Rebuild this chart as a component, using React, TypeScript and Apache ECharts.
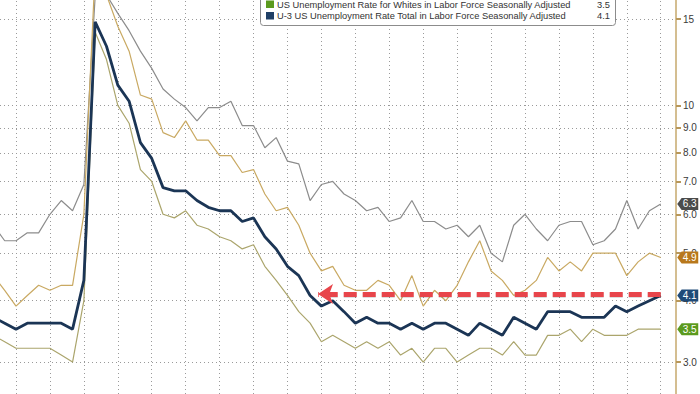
import React, { useEffect, useRef } from "react";
import * as echarts from "echarts";

// Monthly observations, Jul 2019 .. Jun 2024
const months: string[] = [
  "2019-07","2019-08","2019-09","2019-10","2019-11","2019-12",
  "2020-01","2020-02","2020-03","2020-04","2020-05","2020-06","2020-07","2020-08","2020-09","2020-10","2020-11","2020-12",
  "2021-01","2021-02","2021-03","2021-04","2021-05","2021-06","2021-07","2021-08","2021-09","2021-10","2021-11","2021-12",
  "2022-01","2022-02","2022-03","2022-04","2022-05","2022-06","2022-07","2022-08","2022-09","2022-10","2022-11","2022-12",
  "2023-01","2023-02","2023-03","2023-04","2023-05","2023-06","2023-07","2023-08","2023-09","2023-10","2023-11","2023-12",
  "2024-01","2024-02","2024-03","2024-04","2024-05","2024-06",
];

const black: number[] = [
  5.7, 5.3, 5.3, 5.5, 5.5, 6.0,
  6.4, 6.1, 6.9, 16.7, 16.8, 15.4, 14.2, 12.9, 11.9, 10.8, 10.3, 9.9,
  9.3, 9.9, 9.9, 10.2, 9.1, 9.1, 8.2, 8.6, 7.7, 7.6, 6.4, 6.9,
  7.0, 6.6, 6.4, 6.1, 6.2, 5.8, 5.9, 6.4, 5.8, 5.8, 5.6, 5.7,
  5.4, 5.7, 5.0, 4.8, 5.7, 6.0, 5.6, 5.3, 5.7, 5.8, 5.8, 5.2,
  5.3, 5.6, 6.4, 5.6, 6.1, 6.3,
];

const hispanic: number[] = [
  4.5, 4.2, 3.9, 4.1, 4.3, 4.2,
  4.3, 4.3, 6.0, 18.9, 16.8, 14.5, 12.9, 10.5, 10.3, 8.8, 8.6, 9.3,
  8.5, 8.5, 7.9, 7.9, 7.3, 7.4, 6.6, 6.1, 6.2, 5.7, 5.0, 4.6,
  4.7, 4.3, 4.2, 4.2, 4.4, 4.3, 4.0, 4.5, 3.9, 4.2, 4.0, 4.3,
  4.8, 5.3, 4.6, 4.4, 4.1, 4.2, 4.4, 4.9, 4.6, 4.8, 4.6, 5.0,
  5.0, 5.0, 4.5, 4.8, 5.0, 4.9,
];

const whites: number[] = [
  3.4, 3.3, 3.2, 3.2, 3.2, 3.2,
  3.1, 3.0, 4.0, 14.1, 12.4, 10.0, 9.2, 7.4, 7.0, 6.0, 5.9, 6.1,
  5.7, 5.6, 5.4, 5.3, 5.1, 5.2, 4.7, 4.4, 4.1, 3.8, 3.6, 3.3,
  3.4, 3.3, 3.2, 3.3, 3.2, 3.3, 3.1, 3.2, 3.0, 3.2, 3.2, 3.0,
  3.1, 3.2, 3.2, 3.1, 3.3, 3.1, 3.1, 3.4, 3.4, 3.5, 3.3, 3.5,
  3.4, 3.4, 3.4, 3.5, 3.5, 3.5,
];

const total: number[] = [
  3.7, 3.6, 3.5, 3.6, 3.6, 3.6,
  3.6, 3.5, 4.4, 14.8, 13.2, 11.0, 10.2, 8.4, 7.8, 6.8, 6.7, 6.7,
  6.4, 6.2, 6.1, 6.1, 5.8, 5.9, 5.4, 5.1, 4.7, 4.5, 4.1, 3.9,
  4.0, 3.8, 3.6, 3.7, 3.6, 3.6, 3.5, 3.6, 3.5, 3.6, 3.6, 3.5,
  3.4, 3.6, 3.5, 3.4, 3.7, 3.6, 3.5, 3.8, 3.8, 3.8, 3.7, 3.7,
  3.7, 3.9, 3.8, 3.9, 4.0, 4.1,
];

const yTicks: number[] = [3, 4, 5, 6, 7, 8, 9, 10, 15];
const quarterLines: string[] = [
  "2019-09","2019-12","2020-03","2020-06","2020-09","2020-12","2021-03","2021-06","2021-09","2021-12",
  "2022-03","2022-06","2022-09","2022-12","2023-03","2023-06","2023-09","2023-12","2024-03","2024-06",
];

const legendRows = [
  { name: "US Unemployment Rate for Whites in Labor Force Seasonally Adjusted", value: "3.5", color: "#5b9a1e" },
  { name: "U-3 US Unemployment Rate Total in Labor Force Seasonally Adjusted", value: "4.1", color: "#1f3f66" },
];

// annotation arrow: from the latest month back to the Nov 2021 level
const arrowLevel = 4.13;
const arrowShadowLevel = 4.1;
const arrowFromIdx = 59;
const arrowToIdx = 28.7;

const FONT = "Liberation Sans";

const pairs = (vals: number[]) => vals.map((v, i) => [i, v]);

const badge = (vals: number[], color: string) => {
  const last = vals[vals.length - 1];
  return {
    silent: true,
    symbol: "path://M0,6L5,0L24,0L24,12L5,12Z",
    symbolSize: [21, 12],
    symbolKeepAspect: false,
    symbolOffset: [27, 0],
    itemStyle: { color },
    label: {
      show: true,
      color: "#ffffff",
      fontSize: 10,
      fontFamily: FONT,
      offset: [2, 0],
      formatter: (p: any) => Number(p.value).toFixed(1),
    },
    data: [{ coord: [vals.length - 1, last], value: last }],
  };
};

export default function App() {
  const ref = useRef<HTMLDivElement>(null);

  useEffect(() => {
    if (!ref.current) return;
    const chart = echarts.init(ref.current, undefined, { renderer: "svg" });

    const gridLineData: any[] = [
      ...quarterLines.map((m) => ({ xAxis: months.indexOf(m) })),
      ...yTicks.map((v) => ({ yAxis: v })),
    ];

    const legendGraphics: any[] = [
      {
        type: "rect",
        shape: { x: 260.5, y: -40, width: 355, height: 65.5, r: 3 },
        style: { fill: "#ffffff", stroke: "#8c8c8c", lineWidth: 1 },
        z: 100,
      },
    ];
    legendRows.forEach((r, i) => {
      const cy = 4.5 + i * 11.5;
      legendGraphics.push({
        type: "rect",
        shape: { x: 266, y: cy - 4, width: 8, height: 7.5 },
        style: { fill: r.color },
        z: 101,
      });
      legendGraphics.push({
        type: "text",
        x: 277,
        y: cy,
        style: { text: r.name, fill: "#333333", fontSize: 9.3, fontFamily: FONT, verticalAlign: "middle", textAlign: "left" },
        z: 101,
      });
      legendGraphics.push({
        type: "text",
        x: 610,
        y: cy,
        style: { text: r.value, fill: "#333333", fontSize: 9.3, fontFamily: FONT, verticalAlign: "middle", textAlign: "right" },
        z: 101,
      });
    });

    const dash = [13, 6];

    const option: any = {
      animation: false,
      textStyle: { fontFamily: FONT },
      grid: { left: 0, right: 24, top: 0, bottom: 0, containLabel: false },
      xAxis: {
        type: "value",
        min: 0.585,
        max: 60.35,
        show: false,
        splitLine: { show: false },
      },
      yAxis: {
        type: "log",
        logBase: 10,
        position: "right",
        min: 2.582,
        max: 16.4,
        axisLine: { show: true, onZero: false, lineStyle: { color: "#c6a86c", width: 1.5 } },
        axisTick: { show: true, length: 5, customValues: yTicks, lineStyle: { color: "#b8975a", width: 2 } },
        axisLabel: {
          show: true,
          customValues: yTicks,
          margin: 7,
          color: "#3a3a3a",
          fontSize: 10,
          fontFamily: FONT,
          formatter: (v: number) => (v >= 10 ? String(Math.round(v)) : v.toFixed(1)),
        },
        splitLine: { show: false },
      },
      graphic: legendGraphics,
      series: [
        {
          name: "Black",
          type: "line",
          data: pairs(black),
          showSymbol: false,
          clip: false,
          z: 2,
          lineStyle: { color: "#8c8c8c", width: 1.2 },
          itemStyle: { color: "#8c8c8c" },
          markLine: {
            silent: true,
            symbol: "none",
            z: 1,
            label: { show: false },
            lineStyle: { type: [1, 3], color: "#9a9a9a", width: 1 },
            data: gridLineData,
          },
          markPoint: badge(black, "#4b4b4b"),
        },
        {
          name: "Hispanic",
          type: "line",
          data: pairs(hispanic),
          showSymbol: false,
          clip: false,
          z: 3,
          lineStyle: { color: "#c9a962", width: 1.2 },
          itemStyle: { color: "#c9a962" },
          markPoint: badge(hispanic, "#b8781c"),
        },
        {
          name: "Whites",
          type: "line",
          data: pairs(whites),
          showSymbol: false,
          clip: false,
          z: 3,
          lineStyle: { color: "#aba56c", width: 1.2 },
          itemStyle: { color: "#aba56c" },
          markPoint: badge(whites, "#5b9a1e"),
        },
        {
          name: "U-3 Total",
          type: "line",
          data: pairs(total),
          showSymbol: false,
          clip: false,
          z: 4,
          lineStyle: { color: "#1b3555", width: 2.8 },
          itemStyle: { color: "#1b3555" },
          markLine: {
            silent: true,
            symbol: ["none", "arrow"],
            symbolSize: 15,
            z: 6,
            label: { show: false },
            lineStyle: { color: "#e8454b", width: 5, type: dash },
            data: [
              [
                { coord: [arrowFromIdx, arrowShadowLevel], symbol: "none", lineStyle: { color: "rgba(0,0,0,0.13)", width: 5, type: dash } },
                { coord: [arrowToIdx + 0.4, arrowShadowLevel], symbol: "none" },
              ],
              [
                { coord: [arrowFromIdx, arrowLevel] },
                { coord: [arrowToIdx, arrowLevel] },
              ],
            ],
          },
          markPoint: badge(total, "#1f4a78"),
        },
      ],
    };

    chart.setOption(option);
    return () => chart.dispose();
  }, []);

  return (
    <div
      ref={ref}
      style={{ position: "fixed", left: 0, top: 0, width: 700, height: 394, background: "#ffffff" }}
    />
  );
}
